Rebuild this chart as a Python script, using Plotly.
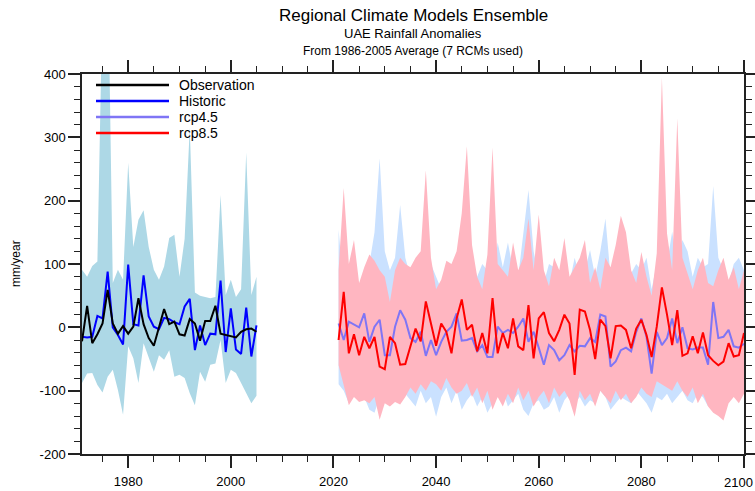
import plotly.graph_objects as go

# ---------------- data ----------------
hist_years = list(range(1971, 2006))
fut_years = list(range(2021, 2101))

observation = [-22, 34, -25, -11, 6, 59, 6, -10, 2, -10, 1, 46, 5, -17, -29, -1, 29, 5, 9, -11,
               -13, 13, 6, -21, 10, 10, 34, -10, -12, -15, -16, -7, -3, -2, -7]
historic = [-15, -16, -15, 18, 14, 88, 0, -12, -27, 99, 5, 3, 82, 17, 1, -3, 15, 13, 8, 5,
            33, 45, -36, 3, -28, -10, -11, 74, -39, 30, -35, -42, 31, -46, 3]
hist_hi = [91, 80, 97, 104, 520, 600, 70, 91, 75, 260, 127, 170, 185, 127, 91, 75, 96, 141, 146, 80,
           140, 315, 55, 50, 48, 46, 48, 209, 51, 75, 48, 60, 276, 51, 80]
hist_lo = [-88, -73, -72, -91, -103, -78, -67, -99, -138, -30, -49, -88, -25, -46, -70, -44, -51, -36, -78, -75,
           -80, -104, -123, -70, -86, -59, -57, -20, -88, -67, -72, -88, -104, -120, -108]

rcp45 = [6, -20, 9, 4, 0, 22, -23, 1, 12, -44, -44, 1, 27, 12, -17, -23, -7, -45, -20, -44,
         -23, -7, 1, 22, -21, -20, -17, -38, -28, -47, -47, 1, -9, -4, -9, 1, 14, -23, -7, -32,
         -59, -28, -36, -52, -44, -28, -38, -29, -30, -17, -23, 20, 17, -62, -54, -36, -32, -38, -7, 14,
         -15, -73, -7, -28, -17, 14, -25, 0, -33, -35, -32, -32, -59, 40, -17, -15, -4, -30, -32, -26]
rcp85 = [-20, 56, -41, -11, -44, -15, -33, -15, -62, -66, -15, -25, -59, -58, -30, -2, -22, 41, 6, -29,
         6, -7, -41, 14, 44, -4, 4, -38, -9, -41, 46, -41, -9, -33, 14, -30, -36, 35, -49, 14,
         24, -9, -22, -4, 20, 6, -75, 28, 25, -4, -50, 12, 2, -49, 2, 3, -4, -33, -2, 12,
         -12, -47, 1, 63, 20, -28, 27, -45, -41, -14, -41, -8, -44, -53, -60, -54, -25, -46, -44, -9]

rcp45_hi = [154, 60, 90, 80, 60, 80, 100, 150, 267, 120, 90, 110, 193, 110, 80, 95, 80, 90, 100, 80,
            60, 85, 95, 80, 75, 60, 110, 80, 100, 90, 70, 134, 95, 134, 90, 80, 150, 217, 120, 80,
            70, 100, 95, 80, 90, 70, 110, 80, 90, 122, 80, 120, 172, 80, 95, 90, 70, 85, 100, 90,
            110, 60, 100, 80, 100, 151, 100, 138, 120, 80, 110, 95, 100, 223, 110, 90, 70, 100, 110, 90]
rcp45_lo = [-90, -100, -120, -95, -105, -110, -130, -135, -110, -115, -100, -110, -120, -105, -115, -125, -100, -120, -110, -141,
            -110, -95, -120, -100, -130, -115, -105, -125, -110, -135, -120, -110, -100, -125, -115, -105, -130, -140, -120, -115,
            -130, -125, -110, -135, -115, -105, -120, -110, -125, -115, -120, -100, -110, -130, -120, -110, -115, -120, -100, -110,
            -120, -135, -110, -115, -105, -120, -110, -100, -115, -120, -105, -110, -125, -100, -115, -110, -120, -105, -110, -100]
rcp85_hi = [90, 220, 100, 138, 70, 95, 115, 105, 90, 80, 40, 90, 110, 100, 95, 110, 120, 248, 110, 60,
            75, 105, 100, 120, 180, 286, 130, 80, 60, 115, 284, 100, 90, 80, 134, 90, 110, 172, 90, 178,
            90, 65, 110, 90, 141, 80, 95, 110, 138, 70, 95, 60, 110, 95, 130, 176, 150, 90, 70, 119,
            80, 50, 117, 395, 148, 90, 330, 110, 85, 60, 90, 110, 70, 65, 90, 110, 75, 95, 60, 90]
rcp85_lo = [-60, -90, -123, -110, -118, -115, -120, -110, -146, -120, -125, -118, -122, -110, -95, -105, -90, -100, -85, -90,
            -100, -80, -95, -105, -100, -88, -110, -95, -120, -100, -130, -110, -125, -105, -120, -95, -115, -100, -125, -110,
            -100, -120, -95, -110, -100, -115, -141, -100, -115, -105, -125, -100, -110, -120, -100, -115, -105, -120, -110, -95,
            -105, -110, -85, -90, -95, -100, -85, -100, -110, -95, -120, -105, -125, -135, -140, -147, -120, -110, -120, -105]

series_names = ["Observation", "Historic", "rcp4.5", "rcp8.5"]
series_colors = ["#000000", "#0000FF", "#7F75F5", "#FF0000"]

x_tickvals = [1980, 2000, 2020, 2040, 2060, 2080, 2100]
x_ticktext = ["1980", "2000", "2020", "2040", "2060", "2080", ""]   # last label placed separately (edge)
y_tickvals = [-200, -100, 0, 100, 200, 300, 400]
y_ticktext = ["-200", "-100", "0", "100", "200", "300", "400"]

FONT = "Liberation Sans, Arial, Helvetica, sans-serif"

fig = go.Figure()


def band(x, lo, hi, color):
    fig.add_trace(go.Scatter(x=x, y=lo, mode="lines", line=dict(width=0, color=color),
                             showlegend=False, hoverinfo="skip"))
    fig.add_trace(go.Scatter(x=x, y=hi, mode="lines", line=dict(width=0, color=color),
                             fill="tonexty", fillcolor=color, showlegend=False, hoverinfo="skip"))


band(hist_years, hist_lo, hist_hi, "#ADD8E6")
band(fut_years, rcp45_lo, rcp45_hi, "#CAE1FF")
band(fut_years, rcp85_lo, rcp85_hi, "#FFB6C1")

for xs, ys, name, col in [(hist_years, historic, series_names[1], series_colors[1]),
                          (hist_years, observation, series_names[0], series_colors[0]),
                          (fut_years, rcp45, series_names[2], series_colors[2]),
                          (fut_years, rcp85, series_names[3], series_colors[3])]:
    fig.add_trace(go.Scatter(x=xs, y=ys, mode="lines", name=name,
                             line=dict(color=col, width=2), showlegend=False))

# plot-area geometry (pixels)
W, H = 755, 491
ML, MR, MT, MB = 82, 11, 74, 37
PW, PH = W - ML - MR, H - MT - MB


def px2paper(px, py):
    return (px - ML) / PW, (H - MB - py) / PH


# manual NCL-style legend
legend_rows = [85, 101, 117, 133]
for name, col, py in zip(series_names, series_colors, legend_rows):
    x0, y0 = px2paper(96, py)
    x1, _ = px2paper(169, py)
    fig.add_shape(type="line", xref="paper", yref="paper", x0=x0, x1=x1, y0=y0, y1=y0,
                  line=dict(color=col, width=2.5))
    tx, _ = px2paper(178, py)
    fig.add_annotation(xref="paper", yref="paper", x=tx, y=y0, text=name, showarrow=False,
                       xanchor="left", yanchor="middle", borderpad=0,
                       font=dict(family=FONT, size=14, color="black"))

# titles
titles = [("Regional Climate Models Ensemble", 17, 16), ("UAE Rainfall Anomalies", 13, 34),
          ("From 1986-2005 Average (7 RCMs used)", 12, 51)]
for text, size, py in titles:
    _, yy = px2paper(0, py)
    fig.add_annotation(xref="paper", yref="paper", x=0.5, y=yy, text=text, showarrow=False,
                       xanchor="center", yanchor="middle", font=dict(family=FONT, size=size, color="black"))

# y-axis title
xx, yy = px2paper(16, 264)
fig.add_annotation(xref="paper", yref="paper", x=xx, y=yy, text="mm/year", showarrow=False, textangle=-90,
                   xanchor="center", yanchor="middle", font=dict(family=FONT, size=12, color="black"))

# last x tick label sits at the right edge of the figure; keep it fully visible
_, ylab = px2paper(0, 482)
fig.add_annotation(xref="x", yref="paper", x=x_tickvals[-1], y=ylab, text=str(x_tickvals[-1]),
                   showarrow=False, xanchor="right", yanchor="middle", xshift=10, borderpad=0,
                   font=dict(family=FONT, size=13, color="black"))

axis_common = dict(showgrid=False, zeroline=False, showline=True, linecolor="#222", linewidth=1.5,
                   ticks="outside", ticklen=12, tickwidth=1.5, tickcolor="#222", mirror="ticks",
                   automargin=False, tickfont=dict(family=FONT, size=13, color="black"))

fig.update_xaxes(range=[1971, 2100], tickmode="array", tickvals=x_tickvals, ticktext=x_ticktext,
                 ticklabelstandoff=3,
                 minor=dict(dtick=5, tick0=1975, ticklen=6, tickwidth=1.2, tickcolor="#222", ticks="outside"),
                 **axis_common)
fig.update_yaxes(range=[-200, 400], tickmode="array", tickvals=y_tickvals, ticktext=y_ticktext,
                 minor=dict(dtick=20, tick0=0, ticklen=6, tickwidth=1.2, tickcolor="#222", ticks="outside"),
                 **axis_common)

fig.update_layout(width=W, height=H, margin=dict(l=ML, r=MR, t=MT, b=MB, pad=0, autoexpand=False),
                  paper_bgcolor="white", plot_bgcolor="white", showlegend=False,
                  font=dict(family=FONT, color="black"))

fig.write_html("out.html", config={"displayModeBar": False},
               post_script="document.body.style.margin='0';document.body.style.overflow='hidden';")
